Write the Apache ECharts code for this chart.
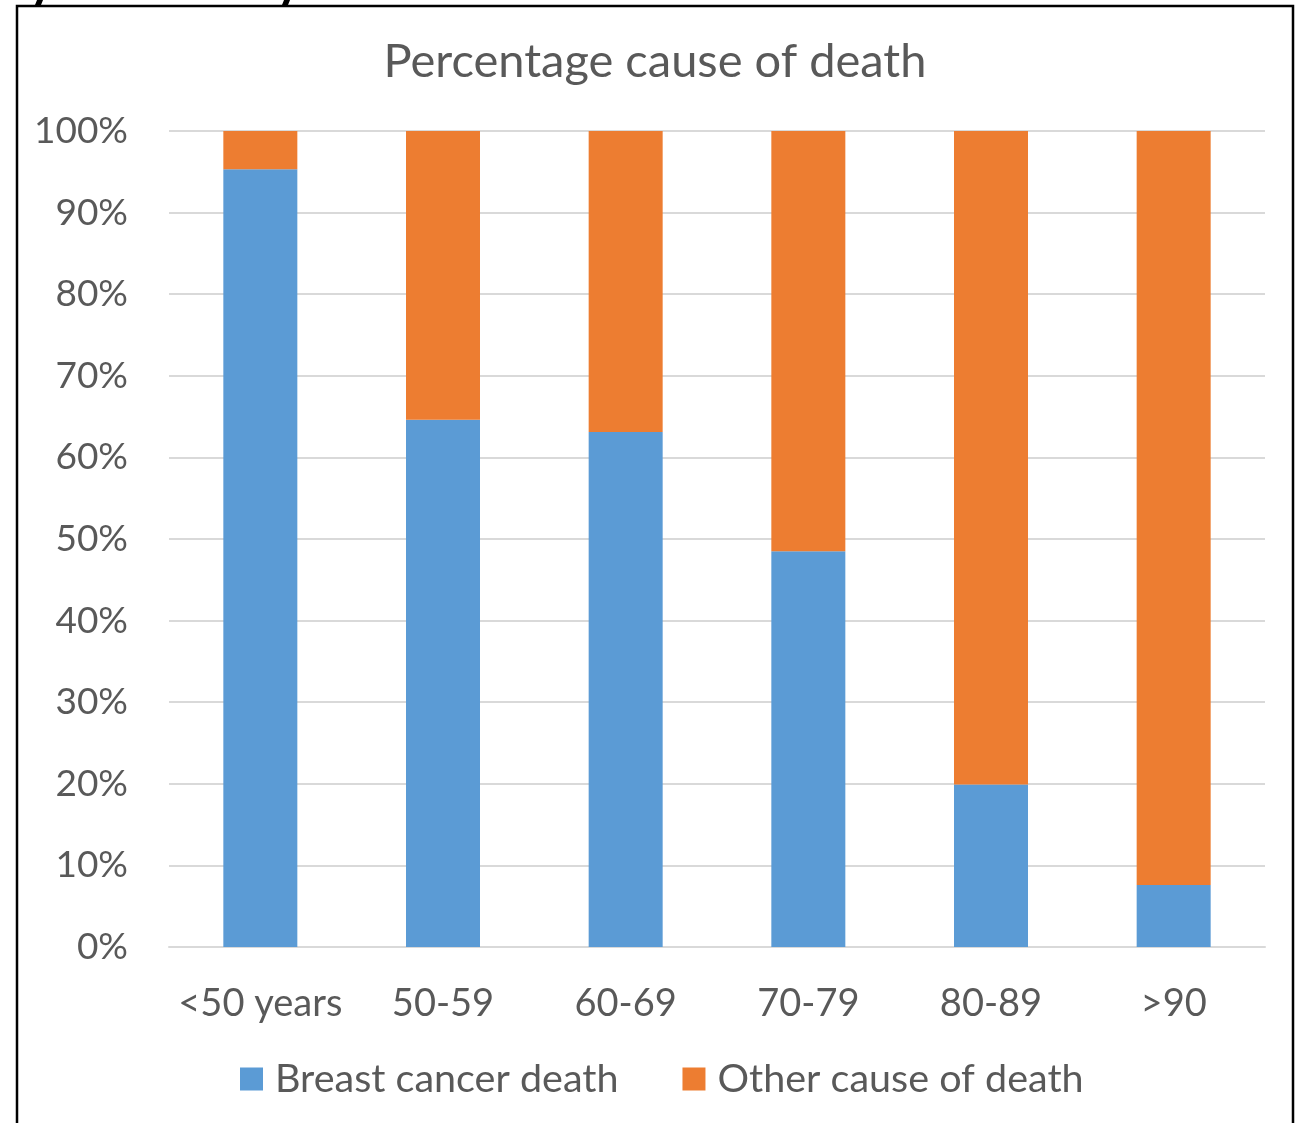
<!DOCTYPE html>
<html>
<head>
<meta charset="utf-8">
<script src="https://cdn.jsdelivr.net/npm/echarts@6/dist/echarts.min.js"></script>
<style>
html,body{margin:0;padding:0;background:#fff;}
#chart{width:1301px;height:1123px;}
</style>
</head>
<body>
<div id="chart"></div>
<script>
const categories = ['<50 years', '50-59', '60-69', '70-79', '80-89', '>90'];
const breastCancerDeath = [95.3, 64.6, 63.1, 48.5, 19.9, 7.6];
const otherCauseOfDeath = [4.7, 35.4, 36.9, 51.5, 80.1, 92.4];
const seriesNames = ['Breast cancer death', 'Other cause of death'];
const titleText = 'Percentage cause of death';

const FONT = 'Lato';
const TXT = '#595959';
const chart = echarts.init(document.getElementById('chart'), null, {renderer: 'canvas'});
chart.setOption({
  backgroundColor: '#fff',
  animation: false,
  title: {
    text: titleText,
    left: 650, top: 33, textAlign: 'center',
    textStyle: {fontFamily: FONT, fontSize: 47, fontWeight: 'normal', color: TXT}
  },
  legend: {
    data: seriesNames,
    left: 235, top: 1054,
    itemWidth: 23, itemHeight: 23, itemGap: 64,
    icon: 'rect',
    textStyle: {fontFamily: FONT, fontSize: 39.5, color: TXT, padding: [0,0,0,7]}
  },
  grid: {left: 169, right: 36, top: 131, bottom: 176, containLabel: false},
  xAxis: {
    type: 'category', data: categories,
    axisLine: {show: true, lineStyle: {color: '#D9D9D9', width: 2}},
    axisTick: {show: false},
    axisLabel: {fontFamily: FONT, fontSize: 38, color: TXT, margin: 38, interval: 0}
  },
  yAxis: {
    type: 'value', min: 0, max: 100, interval: 10,
    axisLine: {show: false}, axisTick: {show: false},
    splitLine: {lineStyle: {color: '#D9D9D9', width: 2}},
    axisLabel: {fontFamily: FONT, fontSize: 37, color: TXT, margin: 41, formatter: v => v + '%'}
  },
  series: [
    {name: seriesNames[0], type: 'bar', stack: 'total', data: breastCancerDeath, barWidth: 74,
     itemStyle: {color: '#5B9BD5'}},
    {name: seriesNames[1], type: 'bar', stack: 'total', data: otherCauseOfDeath, barWidth: 74,
     itemStyle: {color: '#ED7D31'}}
  ],
  graphic: [
    {type: 'rect', shape: {x: 17, y: 6, width: 1276, height: 1200},
     style: {fill: 'none', stroke: '#000', lineWidth: 2.5}, silent: true, z: 100},
    {type: 'polygon', shape: {points: [[37,0],[43,0],[41,5],[35,5]]}, style: {fill: '#000'}, silent: true, z: 100},
    {type: 'polygon', shape: {points: [[284,0],[290,0],[288,5],[282,5]]}, style: {fill: '#000'}, silent: true, z: 100}
  ]
});
</script>
</body>
</html>
